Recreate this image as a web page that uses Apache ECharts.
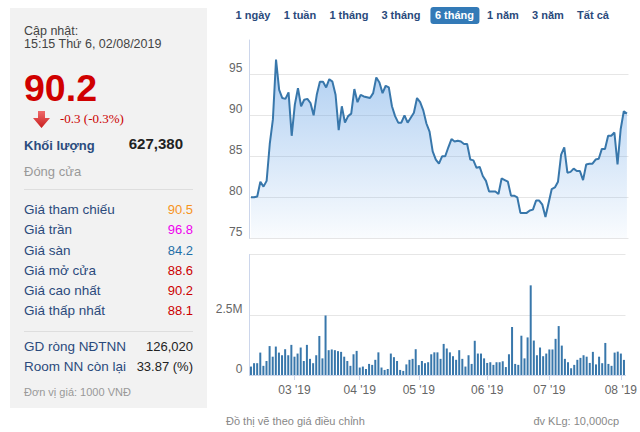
<!DOCTYPE html>
<html>
<head>
<meta charset="utf-8">
<script src="https://cdn.jsdelivr.net/npm/echarts@6/dist/echarts.min.js"></script>
<style>
html,body{margin:0;padding:0;background:#fff;width:640px;height:432px;overflow:hidden;font-family:Arial,"Liberation Sans",sans-serif;}
#chart{position:absolute;left:0;top:0;width:640px;height:432px;}
#panel{position:absolute;left:10px;top:8px;width:197px;height:400px;background:#f2f2f2;}
.t{position:absolute;white-space:nowrap;line-height:16px;font-size:13px;}
.lbl{left:24px;font-size:13.5px;color:#2b4a7c;}
.val{right:447px;font-size:13px;text-align:right;}
.sep{position:absolute;left:24px;width:169px;height:0;border-top:1px solid #dedede;}
.btn{position:absolute;top:7px;line-height:16px;font-size:11px;font-weight:bold;color:#2a4a7c;transform:translateX(-50%);white-space:nowrap;}
.btn.on{background:#337ab7;color:#fff;border-radius:3px;padding:0 5px;height:17px;line-height:17px;}
.note{position:absolute;top:413px;line-height:16px;font-size:11px;color:#888;white-space:nowrap;}
</style>
</head>
<body>
<div id="chart"></div>
<div id="panel"></div>
<div class="t" style="left:24px;top:23px;font-size:12.5px;color:#444;">Cập nhật:</div>
<div class="t" style="left:24px;top:36px;font-size:12.5px;color:#444;">15:15 Thứ 6, 02/08/2019</div>
<div class="t" style="left:24px;top:69px;font-size:37.5px;line-height:38px;font-weight:bold;color:#d00000;">90.2</div>
<svg style="position:absolute;left:33px;top:111px;" width="18" height="18" viewBox="0 0 18 18">
<defs><linearGradient id="ag" x1="0" y1="0" x2="0" y2="1"><stop offset="0" stop-color="#f06a6a"/><stop offset="1" stop-color="#c81e1e"/></linearGradient></defs>
<polygon points="5,0 12,0 12,7 17,7 8.5,17 0,7 5,7" fill="url(#ag)"/>
</svg>
<div class="t" style="left:60px;top:111px;font-family:'Liberation Serif','Times New Roman',serif;font-size:13px;color:#cc0000;">-0.3 (-0.3%)</div>
<div class="t" style="left:24px;top:138px;font-weight:bold;color:#2b4c7e;">Khối lượng</div>
<div class="t" style="right:457px;top:135px;line-height:18px;font-size:15px;font-weight:bold;color:#222;">627,380</div>
<div class="t" style="left:24px;top:164px;color:#999;">Đóng cửa</div>
<div class="sep" style="top:189px;"></div>

<div class="t lbl" style="top:202px;">Giá tham chiếu</div><div class="t val" style="top:202px;color:#f7941d;">90.5</div>
<div class="t lbl" style="top:222px;">Giá trần</div><div class="t val" style="top:222px;color:#ee00ee;">96.8</div>
<div class="t lbl" style="top:243px;">Giá sàn</div><div class="t val" style="top:243px;color:#1f6fa8;">84.2</div>
<div class="t lbl" style="top:263px;">Giá mở cửa</div><div class="t val" style="top:263px;color:#cc0000;">88.6</div>
<div class="t lbl" style="top:283px;">Giá cao nhất</div><div class="t val" style="top:283px;color:#cc0000;">90.2</div>
<div class="t lbl" style="top:303px;">Giá thấp nhất</div><div class="t val" style="top:303px;color:#cc0000;">88.1</div>
<div class="sep" style="top:331px;"></div>
<div class="t lbl" style="top:339px;">GD ròng NĐTNN</div><div class="t val" style="top:339px;color:#222;">126,020</div>
<div class="t lbl" style="top:359px;">Room NN còn lại</div><div class="t val" style="top:359px;color:#222;">33.87 (%)</div>
<div class="t" style="left:24px;top:384px;font-size:11px;color:#999;">Đơn vị giá: 1000 VNĐ</div>

<div class="btn" style="left:253px;">1 ngày</div>
<div class="btn" style="left:300px;">1 tuần</div>
<div class="btn" style="left:349px;">1 tháng</div>
<div class="btn" style="left:401px;">3 tháng</div>
<div class="btn on" style="left:454.5px;top:7px;">6 tháng</div>
<div class="btn" style="left:503px;">1 năm</div>
<div class="btn" style="left:548px;">3 năm</div>
<div class="btn" style="left:593px;">Tất cả</div>

<div class="note" style="left:226px;">Đồ thị vẽ theo giá điều chỉnh</div>
<div class="note" style="right:21px;">đv KLg: 10,000cp</div>

<script>
// Trading days (2019) per month
const febDays = [11,12,13,14,15,18,19,20,21,22,25,26,27,28];
const marDays = [1,4,5,6,7,8,11,12,13,14,15,18,19,20,21,22,25,26,27,28,29];
const aprDays = [1,2,3,4,5,8,9,10,11,12,16,17,18,19,22,23,24,25,26];
const mayDays = [2,3,6,7,8,9,10,13,14,15,16,17,20,21,22,23,24,27,28,29,30,31];
const junDays = [3,4,5,6,7,10,11,12,13,14,17,18,19,20,21,24,25,26,27,28];
const julDays = [1,2,3,4,5,8,9,10,11,12,15,16,17,18,19,22,23,24,25,26,29,30,31];
const augDays = [1,2];
const monthLabels = ["02 '19","03 '19","04 '19","05 '19","06 '19","07 '19","08 '19"];

// Close price (thousand VND)
const prices = [
 80.0,80.0,80.1,81.9,81.3,82.0,86.5,89.5,96.8,93.1,
 92.1,92.0,92.8,87.5,91.3,93.3,91.1,91.9,92.0,91.5,
 90.0,92.5,94.1,94.1,93.4,94.4,94.1,92.5,88.2,91.1,
 89.1,89.9,90.2,93.2,91.6,92.5,92.3,92.2,92.1,92.7,
 94.6,94.0,92.7,93.6,93.4,91.1,89.9,89.1,89.1,90.0,
 89.1,89.7,90.3,92.1,91.6,90.6,89.0,88.0,85.6,84.6,
 84.1,85.0,85.0,86.1,87.1,86.8,86.9,86.8,86.5,86.5,
 84.6,84.5,83.6,83.7,82.6,82.0,80.7,80.7,80.7,80.4,
 82.3,82.1,81.9,80.2,80.2,80.0,78.1,78.1,78.1,78.4,
 78.5,79.6,79.6,79.1,77.6,79.3,81.0,81.2,81.9,85.2,
 86.1,83.0,83.1,83.5,83.2,83.2,82.1,84.0,84.1,84.1,
 84.6,84.7,85.9,85.9,87.5,87.5,87.9,84.0,88.3,90.5,
 90.2
];

// Volume (shares)
const volumes = [
 350000,490000,490000,930000,380000,580000,1200000,760000,1180000,930000,
 820000,1070000,820000,1250000,760000,890000,1140000,580000,1250000,670000,
 490000,820000,1620000,690000,2470000,1030000,1060000,1030000,990000,960000,
 760000,580000,380000,860000,1000000,310000,350000,250000,460000,420000,
 630000,940000,310000,210000,250000,890000,740000,580000,210000,170000,
 440000,630000,670000,1070000,410000,580000,490000,530000,860000,940000,
 940000,670000,1290000,1100000,940000,780000,630000,1030000,670000,350000,
 820000,460000,1420000,890000,890000,690000,500000,530000,420000,530000,
 530000,570000,330000,860000,1990000,460000,420000,1630000,690000,1560000,
 3720000,1430000,820000,1140000,780000,890000,1060000,1060000,1500000,2030000,
 1220000,670000,530000,280000,420000,630000,710000,820000,760000,500000,
 960000,440000,760000,490000,1330000,460000,380000,930000,970000,890000,
 627380
];

const priceTicks = [75, 80, 85, 90, 95];
const volumeTicks = [0, 2500000, 5000000];

// build categories
const monthsDays = [febDays, marDays, aprDays, mayDays, junDays, julDays, augDays];
const dates = [];
const monthStart = {};
monthsDays.forEach(function (days, m) {
  days.forEach(function (d, k) {
    const mm = String(m + 2).padStart(2, '0');
    const key = '2019-' + mm + '-' + String(d).padStart(2, '0');
    if (k === 0 && m > 0) monthStart[dates.length] = monthLabels[m];
    dates.push(key);
  });
});

const chart = echarts.init(document.getElementById('chart'), null, {renderer: 'svg', width: 640, height: 432});
const gl = 249.4, gw = 379.1;
const axisCol = '#ccd6eb', gridCol = '#e6e6e6', txtCol = '#666';
const font = 'Arial, "Liberation Sans", sans-serif';

chart.setOption({
  animation: false,
  grid: [
    {left: gl, width: gw, top: 40, height: 198.3},
    {left: gl, width: gw, top: 254.5, height: 120.5}
  ],
  xAxis: [
    {type: 'category', gridIndex: 0, data: dates, boundaryGap: true,
     axisLine: {show: false}, axisTick: {show: false}, axisLabel: {show: false}, splitLine: {show: false}},
    {type: 'category', gridIndex: 1, data: dates, boundaryGap: true,
     axisLine: {show: true, lineStyle: {color: axisCol, width: 1}},
     axisTick: {show: true, alignWithLabel: true, length: 5, lineStyle: {color: axisCol},
       interval: function (i) { return monthStart[i] !== undefined; }},
     axisLabel: {show: true, color: txtCol, fontSize: 12, fontFamily: font, margin: 9,
       interval: function (i) { return monthStart[i] !== undefined; },
       formatter: function (v, i) { return monthStart[i] || ''; }},
     splitLine: {show: false}}
  ],
  yAxis: [
    {type: 'value', gridIndex: 0, min: priceTicks[0], max: 99.18, interval: 5,
     axisLine: {show: true, lineStyle: {color: axisCol}}, axisTick: {show: false},
     splitLine: {show: true, showMaxLine: false, lineStyle: {color: gridCol}},
     axisLabel: {color: txtCol, fontSize: 12, fontFamily: font, margin: 7, verticalAlign: 'bottom', lineHeight: 12,
       showMaxLabel: false,
       formatter: function (v) { return priceTicks.indexOf(v) >= 0 ? String(v) : ''; }}},
    {type: 'value', gridIndex: 1, min: volumeTicks[0], max: volumeTicks[2], interval: volumeTicks[1],
     axisLine: {show: true, lineStyle: {color: axisCol}}, axisTick: {show: false},
     splitLine: {show: true, lineStyle: {color: gridCol}},
     axisLabel: {color: txtCol, fontSize: 12, fontFamily: font, margin: 7, verticalAlign: 'bottom', lineHeight: 12,
       showMaxLabel: false,
       formatter: function (v) { return v === 0 ? '0' : (v / 1000000) + 'M'; }}}
  ],
  series: [
    {type: 'line', xAxisIndex: 0, yAxisIndex: 0, data: prices, symbol: 'none', smooth: false,
     lineStyle: {color: '#3877ab', width: 2},
     areaStyle: {color: new echarts.graphic.LinearGradient(0, 0, 0, 1, [
       {offset: 0, color: 'rgba(95,158,228,0.72)'},
       {offset: 1, color: 'rgba(95,158,228,0.05)'}
     ])}},
    {type: 'bar', xAxisIndex: 1, yAxisIndex: 1, data: volumes, barWidth: 2,
     itemStyle: {color: '#3877ab'}}
  ]
});
</script>
</body>
</html>
